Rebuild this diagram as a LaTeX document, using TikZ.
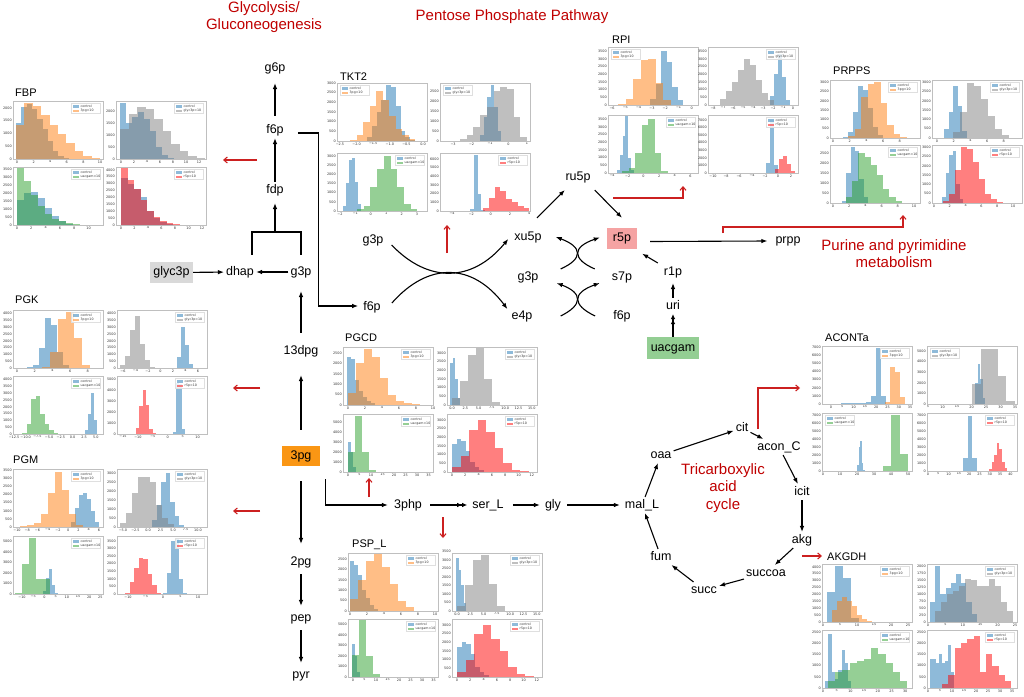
\documentclass[tikz,border=0pt]{standalone}
\usepackage{fontspec}
\setmainfont{Liberation Sans}
\newfontfamily\tk{DejaVu Sans}
\usetikzlibrary{arrows.meta}
\definecolor{cblue}{RGB}{31,119,180}
\definecolor{corange}{RGB}{255,127,14}
\definecolor{cgreen}{RGB}{44,160,44}
\definecolor{cgray}{RGB}{128,128,128}
\definecolor{cred}{RGB}{255,0,0}
\definecolor{tred}{RGB}{192,0,0}
\definecolor{rline}{RGB}{204,32,32}
\definecolor{cglyc}{RGB}{217,217,217}
\definecolor{cthreepg}{RGB}{250,150,20}
\definecolor{crfivep}{RGB}{245,163,163}
\definecolor{cuac}{RGB}{147,206,147}
\newcommand\AX[7]{\def\cx{#1}\def\cy{#2}%
 \foreach \t [count=\i from 0] in {#5}{\node[tkl,anchor=north] (xt-#1-#2-\i) at ({#1+#3+\i*#4},{#2+59}) {\t};}%
 \foreach \t [count=\i from 0] in {#7}{\node[tkl,anchor=east] (yt-#1-#2-\i) at ({#1-0.8},{#2+58-\i*#6}) {\t};}}
\newcommand\HB[4]{\foreach \hh [count=\i from 0] in {#4}{\fill[#3,fill opacity=.5] ({\cx+#1+\i*#2},{\cy+58}) rectangle ++(#2,-\hh);}}
\newcommand\LG[3]{%
 \ifx r#3\def\lx{\cx+58}\else\def\lx{\cx+3}\fi
 \filldraw[draw=gray!25,fill=white,fill opacity=.8,line width=.25] ({\lx},{\cy+2}) rectangle ++(29,10.5);
 \fill[cblue,fill opacity=.5] ({\lx+1.5},{\cy+4.3}) rectangle ++(6.5,2.2);
 \fill[#2,fill opacity=.5] ({\lx+1.5},{\cy+8.7}) rectangle ++(6.5,2.2);
 \node[lgt] (la-\cx-\cy) at ({\lx+9.5},{\cy+5.4}) {control};
 \node[lgt] (lb-\cx-\cy) at ({\lx+9.5},{\cy+9.8}) {#1};
 \draw[gray!50,line width=.35] (\cx,\cy) rectangle ++(90,58);}
\begin{document}
\begin{tikzpicture}[x=1pt,y=-1pt,
 tkl/.style={font=\tk\fontsize{3.4}{4}\selectfont,inner sep=0.3pt,text=black!80},
 lgt/.style={font=\tk\fontsize{3.2}{4}\selectfont,anchor=west,inner sep=0pt,text=black!80},
 lbl/.style={font=\fontsize{12.5}{15}\selectfont,inner sep=2pt,text height=9pt,text depth=2.7pt},
 box/.style={lbl,minimum height=21pt,inner sep=3pt},
 ttl/.style={font=\fontsize{11}{13}\selectfont,anchor=west,inner sep=0pt},
 rt/.style={font=\fontsize{15}{17.5}\selectfont,text=tred,align=center},
 arr/.style={-{Latex[length=6pt,width=4.6pt]},line width=1.1pt},
 dbl/.style={-{Latex[length=5pt,width=4.6pt]Latex[length=5pt,width=4.6pt]},line width=1.1pt},
 rarr/.style={-{Straight Barb[length=3.5pt,width=6pt]},draw=rline,line width=1.1pt}]
\useasboundingbox (0,0) rectangle (1024,696);
\fill[white] (0,0) rectangle (1024,696);

% ---------------- titles ----------------
\node[rt] (tglyc) at (264,17) {Glycolysis/\\Gluconeogenesis};
\node[rt] (tppp) at (512,17) {Pentose Phosphate Pathway};
\node[rt] (tpur) at (894,253.5) {Purine and pyrimidine\\metabolism};
\node[rt] (ttca) at (723,488) {Tricarboxylic\\acid\\cycle};

% ---------------- FBP ----------------
\node[ttl] (tFBP) at (15,93) {FBP};
\AX{13}{101}{4}{16.6}{0,2,4,6,8,10}{12.75}{0,500,1000,1500,2000}
\HB{3}{5.3}{cblue}{36,52,55,50,40,30,18,8,3,1}
\HB{3}{8.4}{corange}{34,56,53,44,34,25,16,8,3,1}
\LG{3pg=10}{corange}{r}
\AX{116}{101}{5}{13}{0,2,4,6,8,10,12}{12}{0,500,1000,1500,2000}
\HB{4}{6}{cblue}{56,36,42,47,40,28,12,4,1}
\HB{4}{8.5}{cgray}{30,45,52,50,40,28,15,8,3,1}
\LG{glyc3p=10}{cgray}{r}
\AX{13}{167}{4}{14.3}{0,2,4,6,8,10}{7.9}{0,500,1000,1500,2000,2500,3000,3500}
\HB{4}{7}{cblue}{25,32,33,27,17,9,4,1}
\HB{4}{7}{cgreen}{57,44,30,19,11,6,4,2,1}
\LG{uacgam=10}{cgreen}{r}
\AX{116}{167}{5}{13.5}{0,2,4,6,8,10,12}{6.9}{0,500,1000,1500,2000,2500,3000,3500,4000}
\HB{5}{6.5}{cblue}{47,41,36,28,14,7,3,1}
\HB{5}{6.5}{cred}{57,45,36,25,14,8,4,2,1}
\LG{r5p=10}{cred}{r}

% ---------------- PGK ----------------
\node[ttl] (tPGK) at (15,300) {PGK};
\AX{13}{310}{4}{17.7}{0,2,4,6,8}{6.8}{0,500,1000,1500,2000,2500,3000,3500,4000}
\HB{14}{6}{cblue}{1,3,20,50,43,16,3}
\HB{29}{8}{corange}{1,16,49,56,30,3}
\LG{3pg=10}{corange}{r}
\AX{117}{310}{6}{12.5}{−6,−4,−2,0,2,4,6}{6.8}{0,500,1000,1500,2000,2500,3000,3500,4000}
\HB{60}{4}{cblue}{11,41,23,4}
\HB{3}{5}{cgray}{3,12,38,52,24,8,1}
\LG{glyc3p=10}{cgray}{r}
\AX{13}{376}{1}{11.7}{−12.5,−10.0,−7.5,−5.0,−2.5,0.0,2.5,5.0}{6.8}{0,500,1000,1500,2000,2500,3000,3500,4000}
\HB{72}{3}{cblue}{4,20,41,14}
\HB{9}{4.5}{cgreen}{1,10,35,38,20,10,4,1}
\LG{uacgam=10}{cgreen}{r}
\AX{117}{376}{6}{14.9}{−15,−10,−5,0,5,10}{10.9}{0,1000,2000,3000,4000,5000}
\HB{56}{3}{cblue}{2,51,50,5}
\HB{19}{3.3}{cred}{6,28,44,29,5,1}
\LG{r5p=10}{cred}{r}

% ---------------- PGM ----------------
\node[ttl] (tPGM) at (13,460) {PGM};
\AX{13}{469}{4}{10.25}{−10,−8,−6,−4,−2,0,2,4,6}{8.1}{0,500,1000,1500,2000,2500,3000,3500}
\HB{58}{4}{cblue}{5,19,32,34,28,16,5}
\HB{0}{7}{corange}{0.5,1,2,4,13,34,55,37,13,2}
\LG{3pg=10}{corange}{r}
\AX{117}{469}{6}{12.5}{−5.0,−2.5,0.0,2.5,5.0,7.5,10.0}{9}{0,500,1000,1500,2000,2500,3000}
\HB{35}{4.5}{cblue}{7,22,45,54,25,11,2}
\HB{3}{6}{cgray}{3.6,14,34,50,50,45,22,9,3}
\LG{glyc3p=10}{cgray}{r}
\AX{13}{536}{9}{11.2}{−10,−5,0,5,10,15,20,25}{10.5}{0,1000,2000,3000,4000,5000}
\HB{30}{3}{cblue}{3,16,25,9,1}
\HB{2}{7}{cgreen}{1,30,56,15,15}
\LG{uacgam=10}{cgreen}{r}
\AX{117}{536}{11}{17.5}{−10,−5,0,5,10}{7.6}{0,500,1000,1500,2000,2500,3000,3500}
\HB{46}{4}{cblue}{1.5,21,53,55,15,1.5}
\HB{8}{4.5}{cred}{1.5,12,26,36,35,20,9,1.5}
\LG{r5p=10}{cred}{r}

% ---------------- TKT2 ----------------
\node[ttl] (tTKT) at (340,77) {TKT2};
\AX{337}{83}{3}{16.6}{−2.5,−2.0,−1.5,−1.0,−0.5,0.0}{9.7}{0,500,1000,1500,2000,2500,3000}
\HB{30}{4.8}{cblue}{4,15,29,41,56,54,35,10,4,1}
\HB{13}{6.5}{corange}{1,6,19,35,50,41,25,12,6,2}
\LG{3pg=10}{corange}{l}
\AX{440}{83}{13}{18.5}{−3,−2,−1,0,1}{10}{0,500,1000,1500,2000,2500}
\HB{40}{3.5}{cblue}{6,24,44,56,34,10}
\HB{20}{6.7}{cgray}{2,6,14,26,34,50,54,52,24,4}
\LG{glyc3p=10}{cgray}{l}
\AX{337}{153}{3}{15.4}{−2,−1,0,1,2,3}{9.2}{0,500,1000,1500,2000,2500,3000}
\HB{6}{3}{cblue}{5.5,28,51,53,29,7}
\HB{20}{6.7}{cgreen}{2,5.5,24,42,55,42,24,7,2}
\LG{uacgam=10}{cgreen}{r}
\AX{440}{153}{12}{19.3}{−4,−2,0,2,4}{8.7}{0,1000,2000,3000,4000,5000,6000}
\HB{30}{3.8}{cblue}{2,56,17,1}
\HB{43}{5.8}{cred}{3.5,13,24,20,12,9,5,2.6}
\LG{r5p=10}{cred}{r}

% ---------------- RPI ----------------
\node[ttl] (tRPI) at (612,40) {RPI};
\AX{608}{47}{4}{13.3}{−6,−5,−4,−3,−2,−1,0}{7.7}{0,500,1000,1500,2000,2500,3000,3500}
\HB{42}{5.5}{cblue}{6,21,54,43,18,5}
\HB{10}{7.5}{corange}{1,6,26,45,46,22,5}
\LG{3pg=10}{corange}{l}
\AX{708}{47}{5}{10}{−8,−7,−6,−5,−4,−3,−2,−1,0}{7.7}{0,500,1000,1500,2000,2500,3000,3500}
\HB{62}{4}{cblue}{9,31,51,28,5}
\HB{12}{6}{cgray}{6,14,23,35,46,40,25,12,5}
\LG{glyc3p=10}{cgray}{r}
\AX{608}{115}{4}{15.7}{−4,−2,0,2,4,6}{7.7}{0,500,1000,1500,2000,2500,3000,3500}
\HB{9}{2.8}{cblue}{3,18,37,57,15,3}
\HB{14}{6.5}{cgreen}{2,5,20,48,54,20,2}
\LG{uacgam=10}{cgreen}{r}
\AX{708}{115}{5}{13}{−10,−8,−6,−4,−2,0,2}{7.6}{0,1000,2000,3000,4000,5000,6000,7000}
\HB{58}{4}{cblue}{10,53,8}
\HB{67}{4}{cred}{4,14,17,9,2}
\LG{r5p=10}{cred}{r}

% ---------------- PRPPS ----------------
\node[ttl] (tPRPPS) at (833,71) {PRPPS};
\AX{830}{80}{3}{16.7}{0,2,4,6,8}{9.3}{0,500,1000,1500,2000,2500,3000}
\HB{13}{5}{cblue}{1,5.6,26,52,48,30,11,3}
\HB{18}{6.5}{corange}{2,9,41,54,56,35,13,4,1}
\LG{3pg=10}{corange}{r}
\AX{932}{80}{5}{16.7}{0,2,4,6,8}{9.3}{0,500,1000,1500,2000,2500,3000}
\HB{12}{4.6}{cblue}{9,26,52,32,7}
\HB{21}{7}{cgray}{6,26,55,52,39,22,9,3}
\LG{glyc3p=10}{cgray}{r}
\AX{830}{145}{3}{16.2}{0,2,4,6,8,10}{10}{0,500,1000,1500,2000,2500}
\HB{12}{4.3}{cblue}{2,30,56,52,24,6}
\HB{16}{6.2}{cgreen}{6,22,50,46,38,28,14,6,2}
\LG{uacgam=10}{cgreen}{r}
\AX{932}{145}{2}{15.8}{0,2,4,6,8,10}{9.3}{0,500,1000,1500,2000,2500,3000}
\HB{10}{3.5}{cblue}{6,30,48,52,19,4}
\HB{11}{6}{cred}{2,9,33,56,54,41,24,9,4,1}
\LG{r5p=10}{cred}{r}

% ---------------- PGCD ----------------
\node[ttl] (tPGCD) at (345,338) {PGCD};
\AX{343}{347}{5}{17}{0,2,4,6,8,10}{10.4}{0,500,1000,1500,2000,2500}
\HB{4}{4}{cblue}{48,46,25,14,8,4,2}
\HB{5}{8}{corange}{12,42,56,48,27,10,4,2,1}
\LG{3pg=10}{corange}{r}
\AX{447}{347}{5}{13.3}{0.0,2.5,5.0,7.5,10.0,12.5,15.0}{8.7}{0,500,1000,1500,2000,2500,3000}
\HB{3}{2.5}{cblue}{42,47,26,7}
\HB{5}{8}{cgray}{7,24,50,57,26,3.5}
\LG{glyc3p=10}{cgray}{r}
\AX{343}{414}{5}{11.5}{0,5,10,15,20,25,30,35}{10}{0,1000,2000,3000,4000,5000}
\HB{5}{2.5}{cblue}{30,20,5}
\HB{5}{7}{cgreen}{20,56,20,2,0.5}
\LG{uacgam=10}{cgreen}{r}
\AX{447}{414}{5}{13.3}{0,2,4,6,8,10,12}{8.7}{0,500,1000,1500,2000,2500,3000}
\HB{5}{4.5}{cblue}{28,33,31,21,10,5,2}
\HB{5}{8.5}{cred}{5,16,42,52,40,24,9,2,1}
\LG{r5p=10}{cred}{r}

% ---------------- PSP_L ----------------
\node[ttl] (tPSP) at (352,545) {PSP\_L};
\AX{348}{553}{2}{17}{0,2,4,6,8,10}{10.4}{0,500,1000,1500,2000,2500}
\HB{2}{4}{cblue}{50,46,36,21,13,6,2}
\HB{2}{8}{corange}{12,31,50,57,44,27,10,4}
\LG{3pg=10}{corange}{r}
\AX{452}{553}{5}{13.3}{0.0,2.5,5.0,7.5,10.0,12.5,15.0}{8.5}{0,500,1000,1500,2000,2500,3000,3500}
\HB{4}{2.5}{cblue}{53,41,26,8}
\HB{5}{8}{cgray}{5,26,51,56,27,5}
\LG{glyc3p=10}{cgray}{r}
\AX{348}{619}{5}{11.5}{0,5,10,15,20,25,30,35}{10.5}{0,1000,2000,3000,4000,5000}
\HB{4}{2.5}{cblue}{33,21,5}
\HB{4}{7}{cgreen}{22,57,21,3}
\LG{uacgam=10}{cgreen}{r}
\AX{452}{619}{5}{13.3}{0,2,4,6,8,10,12}{8.7}{0,500,1000,1500,2000,2500,3000}
\HB{5}{4.5}{cblue}{30,35,33,23,10,5,2}
\HB{5}{8.5}{cred}{5,17,43,52,38,26,10,3,1}
\LG{r5p=10}{cred}{r}

% ---------------- ACONTa ----------------
\node[ttl] (tACO) at (825,338) {ACONTa};
\AX{822}{346}{9}{11.3}{0,5,10,15,20,25,30,35}{8.1}{0,1000,2000,3000,4000,5000,6000,7000}
\HB{9}{5}{cblue}{0.5,0.5,1,1,1,1.5,1.5,2,8,56,8}
\HB{63}{5}{corange}{2.5,37,32,7}
\LG{3pg=10}{corange}{r}
\AX{927}{346}{1}{14.5}{5,10,15,20,25,30,35}{10.6}{0,1000,2000,3000,4000,5000}
\HB{48}{2.5}{cblue}{21,40,25,6}
\HB{45}{8.5}{cgray}{20,55,55,28,3}
\LG{glyc3p=10}{cgray}{l}
\AX{822}{413}{1}{17}{0,10,20,30,40,50}{7.9}{0,1000,2000,3000,4000,5000,6000,7000}
\HB{35}{1.5}{cblue}{6,24,30,8,1}
\HB{61}{8.3}{cgreen}{5,56,17}
\LG{uacgam=10}{cgreen}{l}
\AX{927}{413}{1}{10.3}{0,5,10,15,20,25,30,35,40}{7.9}{0,1000,2000,3000,4000,5000,6000,7000}
\HB{36}{4.7}{cblue}{13,55,13}
\HB{62}{2.6}{cred}{2.5,9,16,28,22,9,3}
\LG{r5p=10}{cred}{r}

% ---------------- AKGDH ----------------
\node[ttl] (tAKG) at (827,557) {AKGDH};
\AX{822}{564}{1}{17}{0,5,10,15,20,25}{6.9}{0,500,1000,1500,2000,2500,3000,3500,4000}
\HB{5}{8}{cblue}{30,56,44,4}
\HB{10}{5}{corange}{12,21,25,21,16,7,3,1}
\LG{3pg=10}{corange}{r}
\AX{927}{564}{1}{17.4}{0,5,10,15,20,25}{7}{0,250,500,750,1000,1250,1500,1750,2000}
\HB{3}{5.2}{cblue}{20,56,28,34,39,48,39,20,8}
\HB{8}{6}{cgray}{11,20,28,31,36,43,42,36,36,43,36,20,11}
\LG{glyc3p=10}{cgray}{r}
\AX{822}{630}{1}{13.7}{0,5,10,15,20,25,30}{11.2}{0,500,1000,1500,2000,2500}
\HB{3}{3.3}{cblue}{7,54,16,9,18,38,25,7}
\HB{6}{7.2}{cgreen}{7,16,18,25,27,29,40,34,25,16,7}
\LG{uacgam=10}{cgreen}{r}
\AX{927}{630}{1}{12}{0,5,10,15,20,25,30,35}{11.2}{0,500,1000,1500,2000,2500}
\HB{3}{3}{cblue}{29,29,25,34,25,27,43,16}
\HB{15}{6.3}{cred}{4,13,40,45,49,52,16,34,22,13,7}
\LG{r5p=10}{cred}{r}

% ---------------- metabolite nodes ----------------
\node[lbl] (g6p) at (275,68) {g6p};
\node[lbl] (f6p) at (275,130) {f6p};
\node[lbl] (fdp) at (275,190) {fdp};
\node[lbl] (dhap) at (240,272) {dhap};
\node[lbl] (g3pA) at (301,272) {g3p};
\node[box,fill=cglyc,minimum width=43pt] (glyc3p) at (171.5,272.5) {glyc3p};
\node[lbl] (n13dpg) at (301,351) {13dpg};
\node[box,fill=cthreepg,minimum width=38pt,minimum height=20pt] (n3pg) at (301,456) {3pg};
\node[lbl] (n2pg) at (301,562) {2pg};
\node[lbl] (pep) at (301,618) {pep};
\node[lbl] (pyr) at (301,675) {pyr};

\node[lbl] (g3pB) at (373,240) {g3p};
\node[lbl] (f6pB) at (372,307) {f6p};
\node[lbl] (xu5p) at (528,237) {xu5p};
\node[lbl] (g3pC) at (528,277) {g3p};
\node[lbl] (e4p) at (522,316) {e4p};
\node[lbl] (ru5p) at (578,177) {ru5p};
\node[box,fill=crfivep,minimum width=30pt] (r5p) at (622,238.5) {r5p};
\node[lbl] (s7p) at (622,277) {s7p};
\node[lbl] (f6pC) at (622,316) {f6p};
\node[lbl] (prpp) at (788,240) {prpp};
\node[lbl] (r1p) at (673,272) {r1p};
\node[lbl] (uri) at (673,306) {uri};
\node[box,fill=cuac,minimum width=52pt,minimum height=22pt] (uacgam) at (673,348) {uacgam};

\node[lbl] (n3php) at (408,505) {3php};
\node[lbl] (serL) at (488,505) {ser\_L};
\node[lbl] (gly) at (553,505) {gly};
\node[lbl] (malL) at (642,505) {mal\_L};
\node[lbl] (oaa) at (661,455) {oaa};
\node[lbl] (cit) at (742,428) {cit};
\node[lbl] (aconC) at (779,447) {acon\_C};
\node[lbl] (icit) at (802,492) {icit};
\node[lbl] (akg) at (802,540) {akg};
\node[lbl] (succoa) at (766,573) {succoa};
\node[lbl] (succ) at (704,590) {succ};
\node[lbl] (fum) at (661,557) {fum};

% ---------------- glycolysis connectors ----------------
\draw[arr,shorten <=6pt,shorten >=7pt] (f6p) -- (g6p);
\draw[arr] (fdp) -- (f6p);
\coordinate (fj) at (275,232);
\draw[line width=1.1pt] ([yshift=9pt]g3pA.north) |- (fj) -| ([xshift=12pt,yshift=9pt]dhap.north);
\draw[arr,shorten >=5pt] (fj) -- (fdp);
\draw[arr] (g3pA) -- (dhap);
\draw[arr] (glyc3p) -- (dhap);
\draw[arr,shorten <=10pt,shorten >=11pt] (n13dpg) -- (g3pA);
\draw[arr,shorten <=16pt,shorten >=16pt] (n3pg) -- (n13dpg);
\draw[arr,shorten <=15pt,shorten >=10pt] (n3pg) -- (n2pg);
\draw[arr,shorten <=4pt,shorten >=4pt] (n2pg) -- (pep);
\draw[arr,shorten <=4pt,shorten >=4pt] (pep) -- (pyr);
\draw[arr] ([xshift=5pt,yshift=-13pt]n3pg.south east) |- ([xshift=-4pt]n3php.west);
\draw[dbl,shorten <=6pt,shorten >=3pt] (n3php) -- (serL);
\draw[arr,shorten <=7pt,shorten >=3pt] (serL) -- (gly);
\draw[arr,shorten <=4pt,shorten >=3pt] (gly) -- (malL);

% ---------------- pentose phosphate connectors ----------------
\draw[arr] ([xshift=12pt,yshift=-3pt]f6p.east) -- ++(21,0) |- ([xshift=-3pt,yshift=1pt]f6pB.west);
\draw[arr] ([xshift=6pt,yshift=-5pt]g3pB.east) .. controls (428,283) and (472,283) .. ([xshift=-4pt,yshift=-2pt]xu5p.west);
\draw[arr] ([xshift=9pt,yshift=4pt]f6pB.east) .. controls (428,262) and (472,262) .. ([xshift=-2pt,yshift=7pt]e4p.west);
\draw[arr] ([xshift=20pt]g3pC.north east) .. controls (583,259) and (583,247) .. ([xshift=12pt]xu5p.east);
\draw[arr] ([xshift=-15pt]s7p.north west) .. controls (572,259) and (572,247) .. ([xshift=-7pt,yshift=1pt]r5p.west);
\draw[arr] ([xshift=26pt]e4p.east) .. controls (583,305) and (583,293) .. ([xshift=16pt,yshift=2pt]g3pC.south east);
\draw[arr] ([xshift=-16pt]f6pC.west) .. controls (572,305) and (572,293) .. ([xshift=-10pt,yshift=2pt]s7p.south west);
\draw[arr] ([xshift=9pt,yshift=11pt]xu5p.north) -- ([xshift=1.5pt,yshift=-5pt]ru5p.south west);
\draw[arr] ([xshift=2pt,yshift=-5pt]ru5p.south east) -- ([yshift=10pt]r5p.north);
\draw[arr] ([xshift=13pt,yshift=-3pt]r5p.east) -- ([xshift=-6pt,yshift=-1pt]prpp.west);
\draw[arr] ([xshift=-4pt,yshift=1pt]r1p.north west) -- ([xshift=5pt,yshift=-4.5pt]r5p.south east);
\draw[arr,shorten >=3pt] (uri) -- (r1p);
\draw[dbl] (uacgam) -- (uri);

% ---------------- TCA connectors ----------------
\draw[arr] (malL) -- (oaa);
\draw[arr] (oaa) -- (cit);
\draw[arr] (cit) -- (aconC);
\draw[arr] (aconC) -- (icit);
\draw[arr] (icit) -- (akg);
\draw[arr] (akg) -- (succoa);
\draw[arr] (succoa) -- (succ);
\draw[arr] (succ) -- (fum);
\draw[arr] (fum) -- (malL);

% ---------------- red pointers to panels ----------------
\coordinate (rFa) at (257,160); \coordinate (rFb) at (223,160);
\draw[rarr] (rFa) -- (rFb);
\coordinate (rKa) at (260,388); \coordinate (rKb) at (233,388);
\draw[rarr] (rKa) -- (rKb);
\coordinate (rMa) at (260,511); \coordinate (rMb) at (233,511);
\draw[rarr] (rMa) -- (rMb);
\coordinate (rTa) at (447,253); \coordinate (rTb) at (447,225);
\draw[rarr] (rTa) -- (rTb);
\coordinate (rRa) at (613,198); \coordinate (rRb) at (683,186);
\draw[rarr] (rRa) -| (rRb);
\coordinate (rPa) at (723,233); \coordinate (rPb) at (903,215);
\draw[rarr] (rPa) -- (723,227) -| (rPb);
\coordinate (rCa) at (369,497); \coordinate (rCb) at (369,478);
\draw[rarr] (rCa) -- (rCb);
\coordinate (rSa) at (443,517); \coordinate (rSb) at (443,538);
\draw[rarr] (rSa) -- (rSb);
\coordinate (rAa) at (758,429); \coordinate (rAb) at (800,388);
\draw[rarr] (rAa) |- (rAb);
\coordinate (rGa) at (802,556); \coordinate (rGb) at (822,556);
\draw[rarr] (rGa) -- (rGb);
\end{tikzpicture}
\end{document}
